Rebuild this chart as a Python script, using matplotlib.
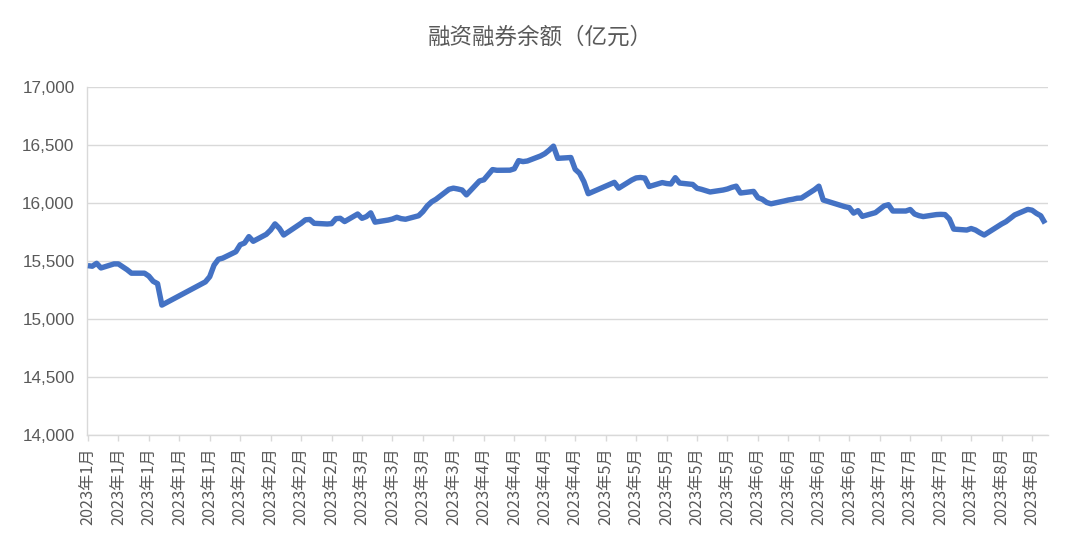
import matplotlib
matplotlib.use("Agg")
import matplotlib.pyplot as plt
import pandas as pd

# ---- data ----
dates = [
    "2023-01-03", "2023-01-04", "2023-01-05", "2023-01-06", "2023-01-09", "2023-01-10", "2023-01-11",
    "2023-01-12", "2023-01-13", "2023-01-16", "2023-01-17", "2023-01-18", "2023-01-19", "2023-01-20",
    "2023-01-30", "2023-01-31",
    "2023-02-01", "2023-02-02", "2023-02-03", "2023-02-06", "2023-02-07", "2023-02-08", "2023-02-09",
    "2023-02-10", "2023-02-13", "2023-02-14", "2023-02-15", "2023-02-16", "2023-02-17", "2023-02-20",
    "2023-02-21", "2023-02-22", "2023-02-23", "2023-02-24", "2023-02-27", "2023-02-28",
    "2023-03-01", "2023-03-02", "2023-03-03", "2023-03-06", "2023-03-07", "2023-03-08", "2023-03-09",
    "2023-03-10", "2023-03-13", "2023-03-14", "2023-03-15", "2023-03-16", "2023-03-17", "2023-03-20",
    "2023-03-21", "2023-03-22", "2023-03-23", "2023-03-24", "2023-03-27", "2023-03-28", "2023-03-29",
    "2023-03-30", "2023-03-31",
    "2023-04-03", "2023-04-04", "2023-04-06", "2023-04-07", "2023-04-10", "2023-04-11", "2023-04-12",
    "2023-04-13", "2023-04-14", "2023-04-17", "2023-04-18", "2023-04-19", "2023-04-20", "2023-04-21",
    "2023-04-24", "2023-04-25", "2023-04-26", "2023-04-27", "2023-04-28",
    "2023-05-04", "2023-05-05", "2023-05-08", "2023-05-09", "2023-05-10", "2023-05-11", "2023-05-12",
    "2023-05-15", "2023-05-16", "2023-05-17", "2023-05-18", "2023-05-19", "2023-05-22", "2023-05-23",
    "2023-05-24", "2023-05-25", "2023-05-26", "2023-05-29", "2023-05-30", "2023-05-31",
    "2023-06-01", "2023-06-02", "2023-06-05", "2023-06-06", "2023-06-07", "2023-06-08", "2023-06-09",
    "2023-06-12", "2023-06-13", "2023-06-14", "2023-06-15", "2023-06-16", "2023-06-19", "2023-06-20",
    "2023-06-21", "2023-06-26", "2023-06-27", "2023-06-28", "2023-06-29", "2023-06-30",
    "2023-07-03", "2023-07-04", "2023-07-05", "2023-07-06", "2023-07-07", "2023-07-10", "2023-07-11",
    "2023-07-12", "2023-07-13", "2023-07-14", "2023-07-17", "2023-07-18", "2023-07-19", "2023-07-20",
    "2023-07-21", "2023-07-24", "2023-07-25", "2023-07-26", "2023-07-27", "2023-07-28", "2023-07-31",
    "2023-08-01", "2023-08-02", "2023-08-03", "2023-08-04", "2023-08-07", "2023-08-08", "2023-08-09",
    "2023-08-10", "2023-08-11",
]
balance = [
    15460, 15455, 15480, 15440, 15475, 15475, 15450,
    15425, 15395, 15395, 15370, 15325, 15305, 15120,
    15320, 15365,
    15465, 15515, 15525, 15580, 15640, 15655, 15710,
    15670, 15730, 15767, 15820, 15782, 15724, 15800,
    15825, 15855, 15858, 15825, 15819, 15822,
    15865, 15868, 15840, 15905, 15868, 15883, 15915,
    15835, 15853, 15862, 15877, 15865, 15860, 15890,
    15926, 15975, 16010, 16032, 16118, 16128, 16121,
    16112, 16070,
    16190, 16200, 16288, 16282, 16283, 16295, 16365,
    16357, 16362, 16405, 16425, 16455, 16490, 16385,
    16392, 16290, 16256, 16184, 16080,
    16178, 16128, 16198, 16216, 16220, 16215, 16142,
    16176, 16168, 16164, 16218, 16172, 16160, 16127,
    16118, 16106, 16095, 16112, 16121, 16135,
    16145, 16086, 16100, 16046, 16032, 16005, 15993,
    16017, 16026, 16032, 16041, 16043, 16115, 16145,
    16026, 15968, 15960, 15913, 15934, 15885,
    15917, 15946, 15975, 15985, 15931, 15931, 15944,
    15905, 15891, 15883, 15900, 15902, 15900, 15862,
    15775, 15767, 15780, 15767, 15744, 15724, 15796,
    15819, 15839, 15868, 15897, 15945, 15938, 15911,
    15890, 15825,
]
y_ticks = [14000, 14500, 15000, 15500, 16000, 16500, 17000]
title = "融资融券余额（亿元）"

# ---- plot ----
TXT = "#595959"
GRID = "#d9d9d9"
CJK = ["Noto Sans CJK SC", "DejaVu Sans"]

fig = plt.figure(figsize=(10.8, 5.6), dpi=100)
ax = fig.add_axes([87 / 1080, 1 - 435 / 560, (1048 - 87) / 1080, (435 - 87) / 560])

x = pd.to_datetime(dates)
ax.plot(x, balance, color="#4472C4", linewidth=3.9,
        solid_joinstyle="round", solid_capstyle="butt", zorder=3)

start = pd.Timestamp("2023-01-03")
end = pd.Timestamp("2023-08-11")
ax.set_xlim(start - pd.Timedelta(hours=5), end + pd.Timedelta(hours=16))
ticks = pd.date_range(start, "2023-08-08", freq="7D")
ax.set_xticks(ticks)
ax.set_xticklabels([f"{d.year}年{d.month}月" for d in ticks], rotation=90,
                   family=CJK, fontsize=11.7, color=TXT)
ax.tick_params(axis="x", length=4, width=1, color=GRID, pad=5)

ax.set_ylim(14000, 17000)
ax.set_yticks(y_ticks)
ax.set_yticklabels([f"{v:,}" for v in y_ticks], fontsize=12.3, color=TXT,
                   family="Liberation Sans")
ax.tick_params(axis="y", length=0, pad=9)
ax.yaxis.grid(True, color=GRID, linewidth=1)
ax.set_axisbelow(True)

for s in ["top", "right"]:
    ax.spines[s].set_visible(False)
ax.spines["left"].set_color(GRID)
ax.spines["bottom"].set_color(GRID)
ax.spines["left"].set_linewidth(1)
ax.spines["bottom"].set_linewidth(1)

fig.text(0.5, 1 - 37 / 560, title, ha="center", va="center",
         family=CJK, fontsize=16.2, color=TXT)

fig.savefig("out.png", dpi=100)
